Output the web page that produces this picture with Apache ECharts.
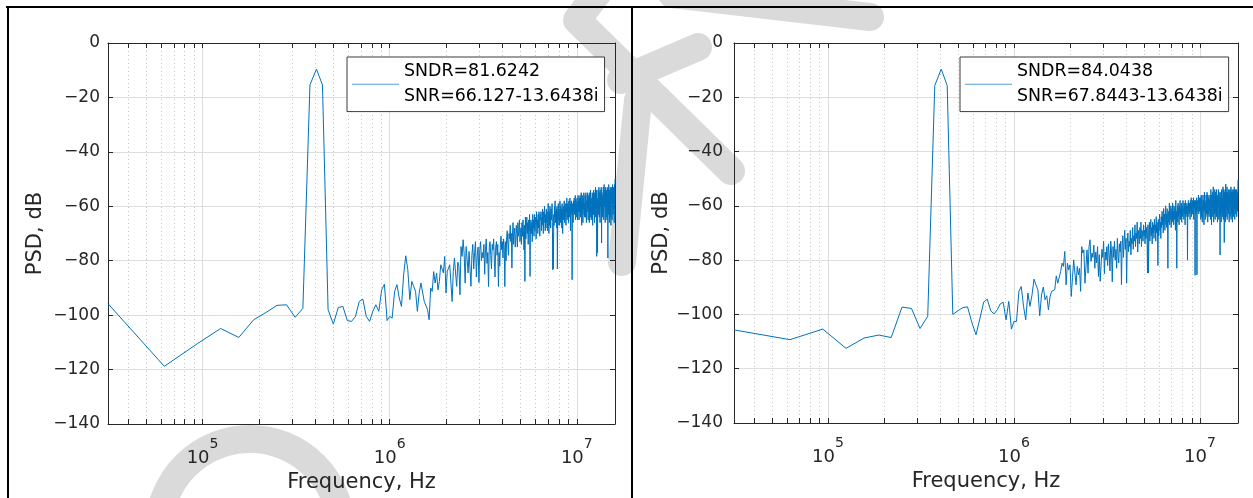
<!DOCTYPE html>
<html><head><meta charset="utf-8">
<script src="https://cdn.jsdelivr.net/npm/echarts@6/dist/echarts.min.js"></script>
<style>html,body{margin:0;padding:0;background:#fff;}#c{width:1253px;height:498px;}</style>
</head><body><div id="c"></div>
<script>
// ---------- data ----------
const binHz = 31250;            // FFT bin spacing (first bin = 31.25 kHz)
const xMin = 31250, xMax = 16000000;
const yMin = -140, yMax = 0, yStep = 20;
const xMinorTicks = [4e4,5e4,6e4,7e4,8e4,9e4,2e5,3e5,4e5,5e5,6e5,7e5,8e5,9e5,2e6,3e6,4e6,5e6,6e6,7e6,8e6,9e6];
const legendLeft = ['SNDR=81.6242', 'SNR=66.127-13.6438i'];
const legendRight = ['SNDR=84.0438', 'SNR=67.8443-13.6438i'];

const psdLeft = [
-95.8,-118.8,-110.5,-104.9,-108.2,-101.7,-99.0,-96.4,-96.2,-100.8,
-97.5,-15.4,-9.6,-15.4,-98.0,-103.3,-97.2,-96.8,-102.0,-102.3,
-100.5,-95.0,-94.1,-100.5,-102.3,-98.6,-96.2,-98.6,-90.7,-88.6,
-102.0,-100.5,-101.1,-91.3,-88.8,-93.7,-96.8,-85.2,-78.2,-83.3,
-94.3,-87.6,-89.4,-91.3,-98.6,-91.9,-88.2,-88.6,-95.0,-94.3,
-98.0,-101.7,-90.0,-91.3,-84.0,-88.2,-84.5,-90.7,-87.6,-81.5,
-80.9,-84.5,-78.4,-91.9,-84.0,-82.7,-81.5,-88.2,-95.0,-84.0,
-79.0,-84.5,-89.4,-80.5,-82.0,-92.5,-74.8,-78.4,-72.3,-77.2,
-88.2,-74.8,-79.6,-84.5,-76.6,-76.0,-89.4,-78.0,-74.0,-83.0,
-77.0,-73.0,-86.0,-78.0,-75.0,-88.0,-76.0,-73.0,-80.0,-77.0,
-79,-74,-85,-76,-72,-81,-77,-89.5,-75,-73,
-78,-83,-74,-76,-72,-80,-86,-75,-73,-78,
-74,-89.5,-77,-82,-74,-71,-76,-73,-79,-72,
-75,-89.5,-73,-80,-71,-69,-74,-78,-70,-72,
-67,-73,-70,-82.7,-71,-66,-74,-70,-68,-75,
-72,-67,-70,-75,-66,-71,-69,-65,-73,-70,
-68,-74,-66,-71,-65,-69,-76,-67,-87.6,-64,
-72,-68,-64,-70,-66,-74,-65,-69,-63,-85.8,
-67,-65,-70,-66,-73,-63,-68,-65,-71,-63,
-69,-66,-64,-72,-62,-67,-65,-70,-63,-68,
-62,-66,-71,-63,-65,-62,-69,-64,-67,-61,
-65,-70,-62,-66,-60,-64,-69,-63,-68,-61,
-66,-62,-69,-64,-59,-65,-70,-62,-67,-60,
-64,-68,-61,-65,-63,-59,-66,-83.3,-70,-83,
-63,-67,-60,-64,-58,-66,-62,-65,-61,-68,
-60,-83,-62,-67,-59,-65,-61,-63,-67,-58,
-62,-66,-60,-64,-61,-68,-59,-63,-70,-61,
-65,-60,-62,-58,-66,-61,-64,-59,-63,-67,
-60,-62,-57,-65,-61,-59,-64,-60,-66,-58,
-62,-60,-64,-57,-61,-69,-59,-63,-58,-62,
-60,-87,-64,-59,-61,-66,-58,-62,-60,-57,
-63,-59,-61,-56,-65,-60,-58,-62,-59,-64,
-57,-61,-65,-63,-56,-60,-62,-58,-65,-57,
-60,-62,-56,-59,-64,-57,-61,-55,-63,-67,
-60,-56,-62,-59,-66,-57,-61,-58,-55,-63,
-59,-64,-62,-56,-60,-64,-58,-55,-61,-66,
-63,-58,-60,-56,-62,-55,-59,-65,-57,-61,
-56,-60,-66,-63,-55,-59,-64,-61,-54,-62,
-58,-65,-60,-64,-57,-59,-55,-62,-67,-56,
-61,-57,-63,-54,-63,-56,-60,-66,-55,-62,
-57,-64,-53,-61,-56,-60,-58,-54,-78.4,-57,
-59,-65,-77,-57,-60,-54,-63,-56,-61,-53,
-58,-64,-55,-62,-57,-66,-54,-60,-56,-60,
-58,-53,-61,-73.5,-59,-55,-62,-57,-64,-60,
-56,-63,-53,-61,-57,-65,-59,-52,-60,-56,
-58,-54,-62,-66,-55,-59,-53,-61,-56,-64,
-54,-60,-57,-65,-62,-56,-58,-53,-79,-56,
-60,-55,-63,-52,-61,-58,-54,-66,-56,-62,
-55,-58,-53,-60,-64,-54,-67,-56,-59,-53,
-58,-55,-61,-65,-54,-59,-52,-57,-60,-63,
-57,-53,-59,-56,-61,-54,-66,-55,-52,-60,
-56,-50
];

const psdRight = [
-105.7,-109.3,-105.4,-112.5,-108.7,-107.6,-108.5,-97.3,-97.8,-105.2,
-100.7,-15.7,-9.6,-15.7,-100.0,-98.6,-97.5,-97.2,-103.0,-107.5,
-101.4,-95.4,-94.4,-98.7,-99.8,-98.3,-96.1,-95.5,-102.0,-95.2,
-105.4,-102.6,-102.6,-91.5,-89.7,-97.0,-102.0,-92.1,-97.0,-92.8,
-87.0,-89.1,-90.9,-100.5,-92.8,-89.9,-94.6,-93.1,-98.3,-93.4,
-91.5,-92.0,-90.9,-85.8,-88.5,-87.8,-84.2,-81.1,-82.3,-76.8,
-89.1,-81.1,-83.6,-81.7,-93.4,-86.5,-79.9,-84.8,-89.1,-82.3,
-85.4,-83.0,-91.5,-75.0,-77.4,-76.2,-88.5,-87.8,-76.2,-84.8,
-75.0,-72.5,-80.5,-77.4,-79.0,-74.5,-83.0,-77.0,-81.0,-75.0,
-86.0,-78.0,-87.8,-82.0,-76.0,-79.0,-73.0,-85.0,-77.0,-80.0,
-75,-82,-74,-78,-84,-73,-77,-88,-75,-79,
-73,-80,-76,-83,-72,-78,-81,-74,-77,-73,
-89,-75,-71,-79,-74,-69,-76,-72,-88.5,-74,
-70,-77,-73,-75,-69,-78,-72,-74,-68,-76,
-71,-73,-67,-75,-70,-72,-66,-77,-69,-71,
-74,-68,-72,-66,-75,-69,-70,-73,-67,-71,
-69,-74,-66,-72,-68,-70,-84.7,-67,-84.8,-71,
-66,-73,-69,-65,-71,-68,-74,-66,-70,-67,
-72,-65,-69,-67,-73,-64,-70,-66,-68,-82,
-65,-71,-67,-63,-69,-66,-72,-64,-68,-62,
-67,-64,-70,-61,-66,-63,-69,-65,-60,-67,
-63,-68,-61,-65,-83,-62,-66,-64,-59,-67,
-62,-65,-60,-68,-63,-61,-66,-59,-64,-62,
-67,-60,-63,-65,-61,-69,-58,-64,-62,-83,
-63,-60,-66,-59,-64,-61,-67,-60,-63,-58,
-65,-61,-62,-59,-66,-60,-63,-64,-58,-62,
-61,-65,-59,-63,-60,-67,-58,-62,-64,-60,
-63,-59,-61,-80,-60,-64,-58,-62,-60,-63,
-59,-61,-65,-58,-62,-60,-57,-64,-59,-61,
-63,-58,-60,-62,-57,-65,-59,-61,-58,-62,
-85.6,-60,-58,-63,-59,-61,-57,-85.4,-60,-62,
-58,-61,-59,-56,-63,-60,-58,-62,-57,-60,
-62,-57,-65,-61,-56,-64,-58,-60,-66,-62,
-59,-56,-61,-58,-63,-67,-60,-55,-62,-58,
-61,-65,-59,-64,-56,-60,-63,-62,-55,-61,
-58,-66,-56,-63,-59,-57,-61,-64,-60,-58,
-62,-56,-59,-65,-61,-54,-60,-63,-67,-56,
-59,-64,-61,-55,-60,-58,-53,-62,-66,-59,
-56,-60,-63,-54,-61,-65,-59,-55,-62,-57,
-60,-64,-54,-61,-57,-59,-66,-63,-56,-60,
-58,-54,-61,-65,-59,-55,-62,-64,-60,-78.1,
-57,-63,-59,-55,-61,-66,-58,-54,-62,-57,
-59,-64,-60,-57,-53,-61,-65,-58,-54,-60,
-57,-73.5,-55,-63,-56,-61,-54,-66,-57,-52,
-60,-64,-58,-55,-61,-57,-53,-65,-56,-60,
-55,-62,-58,-56,-63,-54,-57,-61,-66,-58,
-56,-60,-54,-64,-62,-55,-59,-57,-53,-65,
-57,-55,-61,-63,-58,-54,-60,-66,-55,-59,
-56,-62,-54,-58,-64,-60,-55,-59,-53,-61,
-57,-65,-60,-56,-58,-54,-61,-63,-55,-59,
-56,-60,-54,-64,-57,-61,-55,-59,-62,-58,
-55,-50.4
];

// ---------- styling ----------
const FONT = 'DejaVu Sans';
const AX = '#262626';
const GRIDC = '#dedede';
const MINORC = '#c4c4c4';
const BLUE = '#0072BD';
const WM = '#dadada';

const grids = [
  {left: 108, top: 43, width: 507, height: 381},
  {left: 734, top: 43, width: 504, height: 380}
];

function xLabelFmt(v) {
  const e = Math.log10(v), r = Math.round(e);
  if (Math.abs(e - r) > 1e-6) return '';
  return '{b|10}{s|' + r + '}';
}
function yLabelFmt(v) {
  return String(v).replace('-', '\u2212');
}

function xAxes(gi) {
  return [{
    gridIndex: gi, type: 'log', logBase: 10, min: xMin, max: xMax, position: 'bottom',
    axisLine: {show: true, onZero: false, lineStyle: {color: AX, width: 1}},
    axisTick: {show: true, inside: true, length: 5, lineStyle: {color: AX}},
    axisLabel: {
      interval: 0, margin: 13, formatter: xLabelFmt, color: AX,
      rich: {
        b: {fontFamily: FONT, fontSize: 18, color: AX, lineHeight: 30, verticalAlign: 'bottom'},
        s: {fontFamily: FONT, fontSize: 14, color: AX, lineHeight: 14, verticalAlign: 'top'}
      }
    },
    splitLine: {show: true, lineStyle: {color: GRIDC, width: 1}},
    name: 'Frequency, Hz', nameLocation: 'middle', nameGap: 46,
    nameTextStyle: {fontFamily: FONT, fontSize: 21, color: AX}
  }, {
    gridIndex: gi, type: 'log', logBase: 10, min: xMin, max: xMax, position: 'top',
    axisLine: {show: true, onZero: false, lineStyle: {color: AX, width: 1}},
    axisTick: {show: true, inside: true, length: 5, lineStyle: {color: AX}},
    axisLabel: {show: false}, splitLine: {show: false}
  }];
}

function yAxes(gi, margin) {
  return [{
    gridIndex: gi, type: 'value', min: yMin, max: yMax, interval: yStep, position: 'left',
    axisLine: {show: true, onZero: false, lineStyle: {color: AX, width: 1}},
    axisTick: {show: true, inside: true, length: 5, lineStyle: {color: AX}},
    axisLabel: {margin: margin, fontFamily: FONT, fontSize: 17, color: AX, formatter: yLabelFmt},
    splitLine: {show: true, lineStyle: {color: GRIDC, width: 1}},
    name: 'PSD, dB', nameLocation: 'middle', nameGap: 62, nameRotate: 90,
    nameTextStyle: {fontFamily: FONT, fontSize: 21, color: AX}
  }, {
    gridIndex: gi, type: 'value', min: yMin, max: yMax, interval: yStep, position: 'right',
    axisLine: {show: true, onZero: false, lineStyle: {color: AX, width: 1}},
    axisTick: {show: true, inside: true, length: 5, lineStyle: {color: AX}},
    axisLabel: {show: false}, splitLine: {show: false}
  }];
}

function minorSeries(gi) {
  return {
    type: 'custom', xAxisIndex: gi * 2, yAxisIndex: gi * 2, silent: true, z: 1,
    coordinateSystem: 'cartesian2d', clip: false,
    data: xMinorTicks.map(v => [v, yMin]),
    encode: {x: 0, y: 1},
    renderItem: function (params, api) {
      const f = api.value(0);
      const b = api.coord([f, yMin]), t = api.coord([f, yMax]);
      const x = Math.round(b[0]) + 0.5;
      return {type: 'group', children: [
        {type: 'line', shape: {x1: x, y1: b[1], x2: x, y2: t[1]}, style: {stroke: MINORC, lineWidth: 1, lineDash: [1, 3]}},
        {type: 'line', shape: {x1: x, y1: b[1], x2: x, y2: b[1] - 5}, style: {stroke: AX, lineWidth: 1}},
        {type: 'line', shape: {x1: x, y1: t[1], x2: x, y2: t[1] + 5}, style: {stroke: AX, lineWidth: 1}}
      ]};
    }
  };
}

function lineSeries(gi, name, arr) {
  return {
    type: 'line', name: name, xAxisIndex: gi * 2, yAxisIndex: gi * 2, z: 3,
    data: arr.map((v, i) => [(i + 1) * binHz, v]),
    symbol: 'none', showSymbol: false, animation: false,
    lineStyle: {color: BLUE, width: 1}, itemStyle: {color: BLUE}
  };
}

function legendFor(name, left, lines) {
  return {
    data: [name], left: left, top: 57, orient: 'vertical',
    icon: 'rect', padding: [2, 6, 2, 5], itemWidth: 47, itemHeight: 1, itemGap: 0,
    itemStyle: {color: '#4f9fd6'},
    borderColor: '#3a3a3a', borderWidth: 1, backgroundColor: '#fff',
    selectedMode: false,
    formatter: () => lines.join('\n'),
    textStyle: {fontFamily: FONT, fontSize: 17.4, color: '#000', lineHeight: 25.3}
  };
}

// faint background watermark (page decoration, drawn beneath everything)
const wmStrokes = [
  [[600, -10], [577, 20], [731, 171]],
  [[638, 100], [622, 262]],
  [[621, 80], [698, 47]],
  [[672, -6], [870, 17]]
];
const watermarkSeries = {
  type: 'custom', coordinateSystem: 'none', silent: true, z: -5,
  data: [[0]],
  renderItem: function () {
    const kids = wmStrokes.map(p => ({type: 'polyline', shape: {points: p},
      style: {stroke: WM, lineWidth: 28, fill: null, lineCap: 'round', lineJoin: 'round'}}));
    kids.push({type: 'arc', shape: {cx: 250, cy: 530, r: 91, startAngle: Math.PI, endAngle: 2 * Math.PI},
      style: {stroke: WM, lineWidth: 28, fill: null, lineCap: 'round'}});
    return {type: 'group', children: kids};
  }
};

const chart = echarts.init(document.getElementById('c'), null, {renderer: 'canvas'});
chart.setOption({
  animation: false,
  backgroundColor: '#fff',
  grid: grids,
  xAxis: [...xAxes(0), ...xAxes(1)],
  yAxis: [...yAxes(0, 8), ...yAxes(1, 11)],
  legend: [legendFor('L', 347, legendLeft), legendFor('R', 960, legendRight)],
  series: [watermarkSeries, minorSeries(0), minorSeries(1), lineSeries(0, 'L', psdLeft), lineSeries(1, 'R', psdRight)],
  graphic: [
    {type: 'line', silent: true, shape: {x1: 6, y1: 7, x2: 1253, y2: 7}, style: {stroke: '#000', lineWidth: 2}},
    {type: 'line', silent: true, shape: {x1: 8, y1: 6, x2: 8, y2: 498}, style: {stroke: '#000', lineWidth: 2}},
    {type: 'line', silent: true, shape: {x1: 632, y1: 6, x2: 632, y2: 498}, style: {stroke: '#000', lineWidth: 2}}
  ]
});
</script></body></html>
